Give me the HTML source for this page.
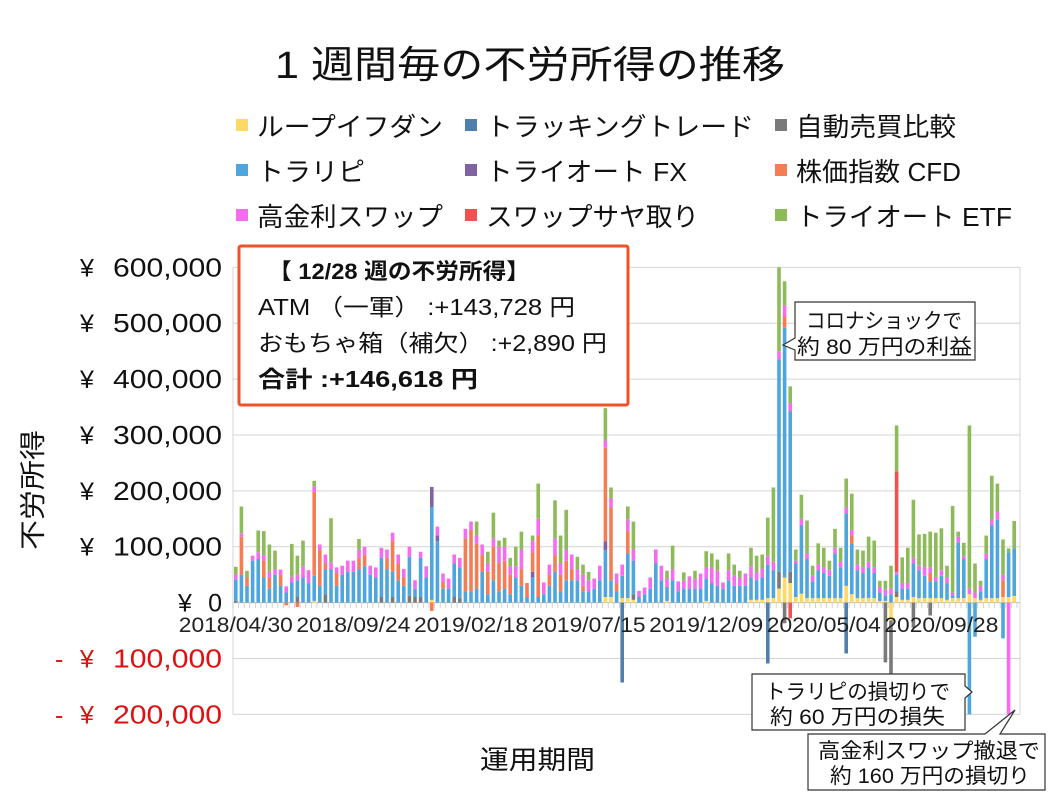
<!DOCTYPE html>
<html><head><meta charset="utf-8">
<style>
html,body{margin:0;padding:0;background:#fff;}
svg{display:block;font-family:"Liberation Sans","Noto Sans CJK JP",sans-serif;}
</style></head>
<body>
<svg id="chart" width="1058" height="794" viewBox="0 0 1058 794">
<rect x="0" y="0" width="1058" height="794" fill="#fff"/>
<text x="275" y="78" font-size="38" textLength="510" lengthAdjust="spacingAndGlyphs" fill="#111">1 週間毎の不労所得の推移</text>
<g id="legend"></g>
<g id="grid"></g>
<g id="bars"></g>
<g id="axes"></g>
<text x="0" y="0" transform="translate(42,490) rotate(-90)" font-size="26" textLength="120" lengthAdjust="spacingAndGlyphs" text-anchor="middle" fill="#111">不労所得</text>
<text x="480" y="769" font-size="26" textLength="115" lengthAdjust="spacingAndGlyphs" fill="#111">運用期間</text>

<g>
<rect x="239" y="246" width="389" height="159" fill="#fff" stroke="#ef5228" stroke-width="3" rx="2"/>
<text x="268" y="279" font-size="22" font-weight="bold" textLength="262" lengthAdjust="spacingAndGlyphs" fill="#111">【 12/28 週の不労所得】</text>
<text x="258" y="315" font-size="23" textLength="317" lengthAdjust="spacingAndGlyphs" fill="#111">ATM （一軍） :+143,728 円</text>
<text x="258" y="351" font-size="23" textLength="349" lengthAdjust="spacingAndGlyphs" fill="#111">おもちゃ箱（補欠） :+2,890 円</text>
<text x="258" y="387" font-size="23" font-weight="bold" textLength="220" lengthAdjust="spacingAndGlyphs" fill="#111">合計 :+146,618 円</text>
</g>

<g>
<path d="M795,302 H975 V360 H795 V350 L783,345 L795,338 Z" fill="#fff" stroke="#333" stroke-width="1.2"/>
<text x="806" y="328" font-size="21" textLength="156" lengthAdjust="spacingAndGlyphs" fill="#111">コロナショックで</text>
<text x="797" y="354" font-size="21" textLength="175" lengthAdjust="spacingAndGlyphs" fill="#111">約 80 万円の利益</text>
</g>
<g>
<path d="M752,674 H965 V686 L972,692 L965,698 V730 H752 Z" fill="#fff" stroke="#333" stroke-width="1.2"/>
<text x="765" y="699" font-size="21" textLength="185" lengthAdjust="spacingAndGlyphs" fill="#111">トラリピの損切りで</text>
<text x="770" y="724" font-size="21" textLength="175" lengthAdjust="spacingAndGlyphs" fill="#111">約 60 万円の損失</text>
</g>
<g>
<path d="M808,734 H985 L1015,710 L1000,734 H1045 V790 H808 Z" fill="#fff" stroke="#333" stroke-width="1.2"/>
<text x="818" y="758" font-size="21" textLength="222" lengthAdjust="spacingAndGlyphs" fill="#111">高金利スワップ撤退で</text>
<text x="830" y="783" font-size="21" textLength="200" lengthAdjust="spacingAndGlyphs" fill="#111">約 160 万円の損切り</text>
</g>
</svg>
<script>
const seriesNames = ["ループイフダン","トラッキングトレード","自動売買比較","トラリピ","トライオート FX","株価指数 CFD","高金利スワップ","スワップサヤ取り","トライオート ETF"];
const seriesColors = ["#ffd966","#4f7fae","#7a7a7a","#4fa6dd","#8064a2","#f47d55","#f56cf0","#f05252","#8dbb5a"];
const legendWidths = [186,268,160,108,201,165,186,213,216];
const tickLabels = ["2018/04/30","2018/09/24","2019/02/18","2019/07/15","2019/12/09","2020/05/04","2020/09/28"];
const yTicks = [600,500,400,300,200,100,0,-100,-200];
const weekCount = 140;
// values in thousands of yen
const loop = [0,0,0,0,0,0,0,0,0,0, 0,0,0,0,3,0,0,0,0,0, 0,0,0,0,0,0,0,0,0,0, 0,0,0,0,0,5,0,0,0,0,
 0,0,0,0,0,0,0,0,0,0, 0,0,0,0,0,0,0,0,0,0, 0,0,0,0,0,0,10,10,0,8, 8,5,0,0,0,0,0,3,0,0,
 0,0,0,0,3,0,0,0,0,0, 0,0,5,5,5,8,8,25,45,35, 10,16,8,8,8,8,8,8,8,30, 15,8,8,8,8,3,3,-32,10,5,
 5,10,8,8,8,8,8,5,8,8, 8,15,8,5,8,8,8,10,10,12];
const tracking = new Array(140).fill(0);
tracking[69] = -143; tracking[95] = -109; tracking[109] = -91;
const autoCompare = new Array(140).fill(0);
autoCompare[0]=3; autoCompare[11]=10; autoCompare[16]=15; autoCompare[26]=10; autoCompare[28]=10;
autoCompare[31]=12; autoCompare[32]=10; autoCompare[33]=10; autoCompare[39]=10; autoCompare[40]=8;
autoCompare[71]=10; autoCompare[97]=30; autoCompare[98]=-37; autoCompare[99]=20; autoCompare[116]=-107;
autoCompare[117]=-127; autoCompare[118]=10; autoCompare[121]=-45; autoCompare[124]=-23;
const torapi = [38,50,30,75,78,45,25,50,30,18, 36,30,45,35,45,30,45,60,30,50, 55,55,60,65,50,45,70,60,45,40,
 30,70,15,70,45,166,110,25,25,60, 55,20,20,25,55,15,40,20,25,15, 45,30,10,45,10,15,30,55,20,40,
 40,40,20,20,25,40,84,30,20,40, 80,60,10,15,25,70,40,25,40,20, 25,25,25,25,40,35,30,25,40,30,
 30,30,40,35,40,60,50,380,447,287, 60,122,70,30,50,45,40,80,55,130, 90,50,45,55,45,15,10,15,30,20,
 20,60,50,40,30,30,40,30,5,100, 70,-202,-61,15,70,130,140,-64,80,85];
const triautoFx = new Array(140).fill(0);
triautoFx[35]=36; triautoFx[36]=10; triautoFx[53]=10; triautoFx[66]=16;
const cfd = new Array(140).fill(0);
cfd[1]=68; cfd[2]=15; cfd[5]=30; cfd[6]=20; cfd[8]=20; cfd[9]=-5; cfd[11]=-8; cfd[14]=150; cfd[15]=64;
cfd[16]=10; cfd[18]=23; cfd[22]=20; cfd[23]=20; cfd[27]=20; cfd[28]=55; cfd[29]=30; cfd[30]=15; cfd[35]=-15;
cfd[37]=12; cfd[41]=95; cfd[42]=110; cfd[43]=80; cfd[44]=30; cfd[45]=40; cfd[46]=60; cfd[47]=50; cfd[48]=50;
cfd[49]=35; cfd[51]=30; cfd[52]=25; cfd[53]=35; cfd[54]=110; cfd[56]=20; cfd[57]=30; cfd[58]=30; cfd[59]=35;
cfd[60]=20; cfd[62]=10; cfd[66]=167; cfd[67]=130; cfd[68]=15; cfd[70]=40; cfd[98]=20; cfd[110]=15; cfd[124]=15; cfd[137]=30;
const swap = [10,6,0,9,12,10,10,10,9,11, 10,10,20,23,10,10,16,12,10,16, 20,20,15,15,16,18,18,15,15,16,
 15,18,15,11,20,0,16,15,18,16, 17,17,15,15,19,15,15,30,25,15, 20,35,0,20,30,21,18,30,20,20,
 26,20,20,20,18,26,13,17,17,20, 21,20,11,12,20,25,26,15,20,18, 14,22,17,27,20,28,27,11,18,18,
 15,22,20,14,16,15,15,15,20,15, 5,12,10,10,10,10,10,10,10,10, 10,10,10,10,10,10,10,10,5,10,
 10,10,8,15,10,8,10,10,5,10, 5,10,10,10,10,10,15,10,-200,0];
const sayatori = new Array(140).fill(0);
sayatori[99] = -28; sayatori[118] = 180;
const etf = [13,48,12,0,39,43,49,33,0,0, 59,34,46,0,10,0,0,79,0,0, 0,0,19,0,0,0,0,0,0,0,
 0,0,0,0,0,0,0,0,0,0, 0,0,0,25,0,21,46,11,16,15, 35,32,0,10,63,0,0,68,50,71,
 0,22,18,15,0,0,58,19,0,0, 23,50,0,0,0,0,0,14,42,0, 15,0,15,0,29,25,20,0,30,20,
 12,0,33,30,25,69,133,150,43,30, 20,43,59,18,38,35,17,34,25,52, 65,27,30,45,48,11,16,41,82,46,
 63,104,56,60,64,79,75,21,155,9, 24,292,52,9,32,79,50,63,7,49];
const allSeries = [loop,tracking,autoCompare,torapi,triautoFx,cfd,swap,sayatori,etf];

const NS = "http://www.w3.org/2000/svg";
const plotL = 233, plotR = 1020, plotT = 267.3, plotB = 714.4;
const band = 5.6;
function yScale(v){ return 602.6 - v * 0.5588; }
function xCenter(i){ return plotL + (i + 0.5) * band; }
function mk(tag, attrs, parent){
  const el = document.createElementNS(NS, tag);
  for (const k in attrs) el.setAttribute(k, attrs[k]);
  parent.appendChild(el);
  return el;
}

// legend
const legend = document.getElementById('legend');
const legX = [236, 465, 775], legY = [126, 171, 216];
seriesNames.forEach((name, s) => {
  const c = s % 3, r = Math.floor(s / 3);
  const g = mk('g', {}, legend);
  
  
  mk('rect', {x: legX[c], y: legY[r] - 7, width: 12, height: 12, fill: seriesColors[s]}, g);
  const t = mk('text', {x: legX[c] + 21, y: legY[r] + 10, 'font-size': 26, textLength: legendWidths[s], lengthAdjust: 'spacingAndGlyphs', fill: '#111'}, g);
  t.textContent = name;
});

// grid + y labels
const grid = document.getElementById('grid');
const axes = document.getElementById('axes');
yTicks.forEach(v => {
  const y = yScale(v);
  const ln = mk('line', {x1: plotL, x2: plotR, y1: y, y2: y, stroke: v === 0 ? '#bdbdbd' : '#d4d4d4', 'stroke-width': 1}, grid);
  
  
  const col = v < 0 ? '#e01010' : '#111';
  const g = mk('g', {}, axes);
  
  
  if (v < 0) { const m = mk('text', {x: 55, y: y + 9, 'font-size': 25, fill: col}, g); m.textContent = '-'; }
  const yen = mk('text', {x: v === 0 ? 178 : 80, y: y + 9, 'font-size': 25, fill: col}, g);
  yen.textContent = '¥';
  if (v === 0) {
    const z = mk('text', {x: 222, y: y + 9, 'font-size': 25, 'text-anchor': 'end', fill: col}, g);
    z.textContent = '0';
  } else {
    const n = mk('text', {x: 113, y: y + 9, 'font-size': 26, textLength: 109, lengthAdjust: 'spacingAndGlyphs', fill: col}, g);
    n.textContent = Math.abs(v * 1000).toLocaleString('en-US');
  }
});
const lb = mk('line', {x1: plotL, x2: plotL, y1: plotT, y2: plotB, stroke: '#d4d4d4'}, grid);


const rb = mk('line', {x1: plotR, x2: plotR, y1: plotT, y2: plotB, stroke: '#d4d4d4'}, grid);



// week ticks & labels
for (let i = 0; i <= weekCount; i++) {
  const x = plotL + i * band;
  mk('line', {x1: x, x2: x, y1: 602.6, y2: 608, stroke: '#c8c8c8', 'stroke-width': 0.8}, axes);
}
tickLabels.forEach((lab, k) => {
  const t = mk('text', {x: xCenter(k * 21) - 57, y: 632, 'font-size': 21, textLength: 114, lengthAdjust: 'spacingAndGlyphs', fill: '#222'}, axes);
  
  
  t.textContent = lab;
});

// bars
const bars = document.getElementById('bars');
const bw = 3.6;
for (let i = 0; i < weekCount; i++) {
  let pos = 0, neg = 0;
  allSeries.forEach((arr, s) => {
    const v = arr[i] || 0;
    if (!v) return;
    let a, b;
    if (v > 0) { a = pos; b = pos + v; pos = b; }
    else { a = neg + v; b = neg; neg = a; }
    const y1 = Math.max(plotT, Math.min(plotB, yScale(b)));
    const y2 = Math.max(plotT, Math.min(plotB, yScale(a)));
    if (y2 - y1 <= 0) return;
    const r = mk('rect', {x: xCenter(i) - bw / 2, y: y1, width: bw, height: y2 - y1, fill: seriesColors[s]}, bars);
    
    
  });
}
</script>
</body></html>
